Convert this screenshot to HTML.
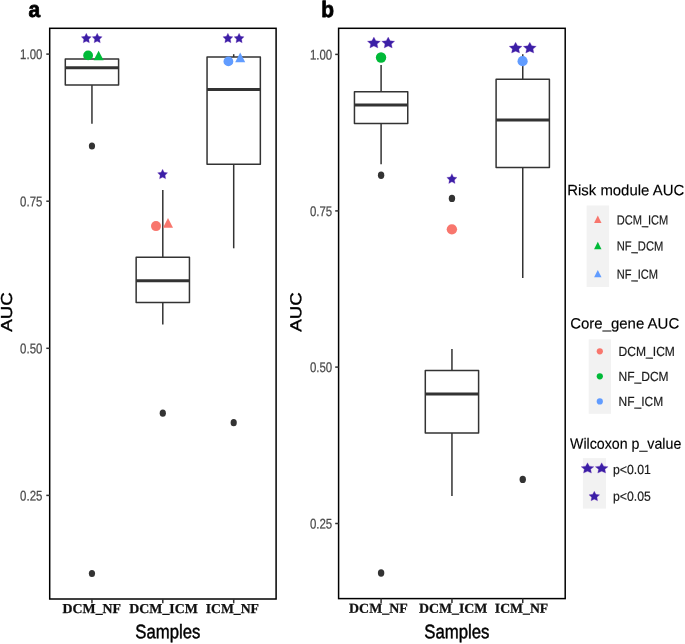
<!DOCTYPE html>
<html><head><meta charset="utf-8"><title>AUC boxplots</title>
<style>
html,body{margin:0;padding:0;background:#fff;}
body{width:685px;height:644px;overflow:hidden;}
svg{display:block;}
text{font-family:"Liberation Sans",Arial,sans-serif;}
.tk{font-size:14px;fill:#4d4d4d;stroke:#4d4d4d;stroke-width:0.25;}
.ser{font-family:"Liberation Serif","Times New Roman",serif;font-weight:bold;font-size:13.6px;fill:#111;stroke:#111;stroke-width:0.25;}
.ttl{font-size:19.6px;fill:#000;stroke:#000;stroke-width:0.45;}
.lt{font-size:15px;fill:#000;stroke:#000;stroke-width:0.15;}
.ll{font-size:13.2px;fill:#1a1a1a;stroke:#1a1a1a;stroke-width:0.2;}
.pl{font-size:22.5px;font-weight:bold;fill:#000;stroke:#000;stroke-width:0.8;stroke-linejoin:round;}
.bx{fill:#fff;stroke:#333;stroke-width:1.5;stroke-linejoin:round;}
.ln{stroke:#333;stroke-width:1.5;fill:none;}
.md{stroke:#333;stroke-width:3;fill:none;}
.ax{stroke:#000;stroke-width:1.5;fill:none;}
.ot{fill:#333;}
</style></head><body>
<svg width="685" height="644" viewBox="0 0 685 644">
<rect width="685" height="644" fill="#fff"/>
<rect class="ax" x="49.7" y="28.3" width="226.40" height="570.70"/>
<line class="ln" x1="46.300000000000004" y1="54.1" x2="49.7" y2="54.1"/>
<text transform="translate(42.4,59.1) rotate(0.04)" class="tk" text-anchor="end" textLength="22.3" lengthAdjust="spacingAndGlyphs">1.00</text>
<line class="ln" x1="46.300000000000004" y1="201.2" x2="49.7" y2="201.2"/>
<text transform="translate(42.4,206.2) rotate(0.04)" class="tk" text-anchor="end" textLength="22.3" lengthAdjust="spacingAndGlyphs">0.75</text>
<line class="ln" x1="46.300000000000004" y1="348.3" x2="49.7" y2="348.3"/>
<text transform="translate(42.4,353.3) rotate(0.04)" class="tk" text-anchor="end" textLength="22.3" lengthAdjust="spacingAndGlyphs">0.50</text>
<line class="ln" x1="46.300000000000004" y1="495.4" x2="49.7" y2="495.4"/>
<text transform="translate(42.4,500.4) rotate(0.04)" class="tk" text-anchor="end" textLength="22.3" lengthAdjust="spacingAndGlyphs">0.25</text>
<line class="ln" x1="91.95" y1="599.0" x2="91.95" y2="603.3"/>
<line class="ln" x1="162.8" y1="599.0" x2="162.8" y2="603.3"/>
<line class="ln" x1="233.7" y1="599.0" x2="233.7" y2="603.3"/>
<line class="ln" x1="91.95" y1="59.1" x2="91.95" y2="59.1"/>
<line class="ln" x1="91.95" y1="85.1" x2="91.95" y2="123.8"/>
<rect class="bx" x="65.30" y="59.1" width="53.3" height="26.00"/>
<line class="md" x1="65.30" y1="67.8" x2="118.60" y2="67.8"/>
<line class="ln" x1="162.8" y1="190" x2="162.8" y2="257.2"/>
<line class="ln" x1="162.8" y1="302.6" x2="162.8" y2="324.6"/>
<rect class="bx" x="136.15" y="257.2" width="53.3" height="45.40"/>
<line class="md" x1="136.15" y1="280.7" x2="189.45" y2="280.7"/>
<line class="ln" x1="233.7" y1="54.2" x2="233.7" y2="57"/>
<line class="ln" x1="233.7" y1="164.2" x2="233.7" y2="248.3"/>
<rect class="bx" x="207.05" y="57" width="53.3" height="107.20"/>
<line class="md" x1="207.05" y1="89.5" x2="260.35" y2="89.5"/>
<ellipse cx="91.95" cy="146.00" rx="3.10" ry="3.60" fill="#333"/>
<ellipse cx="91.95" cy="573.50" rx="3.10" ry="3.60" fill="#333"/>
<ellipse cx="162.80" cy="413.20" rx="3.10" ry="3.60" fill="#333"/>
<ellipse cx="233.70" cy="422.70" rx="3.10" ry="3.60" fill="#333"/>
<polygon points="86.30,33.20 87.85,36.36 91.30,36.87 88.80,39.33 89.39,42.80 86.30,41.16 83.21,42.80 83.80,39.33 81.30,36.87 84.75,36.36" fill="#3B1FA6" stroke="#7a3fc0" stroke-width="0.5" stroke-opacity="0.6"/>
<polygon points="97.20,33.20 98.75,36.36 102.20,36.87 99.70,39.33 100.29,42.80 97.20,41.16 94.11,42.80 94.70,39.33 92.20,36.87 95.65,36.36" fill="#3B1FA6" stroke="#7a3fc0" stroke-width="0.5" stroke-opacity="0.6"/>
<polygon points="162.60,169.20 164.15,172.36 167.60,172.87 165.10,175.33 165.69,178.80 162.60,177.16 159.51,178.80 160.10,175.33 157.60,172.87 161.05,172.36" fill="#3B1FA6" stroke="#7a3fc0" stroke-width="0.5" stroke-opacity="0.6"/>
<polygon points="227.90,33.20 229.45,36.36 232.90,36.87 230.40,39.33 230.99,42.80 227.90,41.16 224.81,42.80 225.40,39.33 222.90,36.87 226.35,36.36" fill="#3B1FA6" stroke="#7a3fc0" stroke-width="0.5" stroke-opacity="0.6"/>
<polygon points="239.10,33.20 240.65,36.36 244.10,36.87 241.60,39.33 242.19,42.80 239.10,41.16 236.01,42.80 236.60,39.33 234.10,36.87 237.55,36.36" fill="#3B1FA6" stroke="#7a3fc0" stroke-width="0.5" stroke-opacity="0.6"/>
<ellipse cx="88.10" cy="55.40" rx="4.90" ry="4.90" fill="#00BA38"/>
<polygon points="98.60,50.80 103.60,60.20 93.60,60.20" fill="#00BA38"/>
<ellipse cx="156.00" cy="226.10" rx="5.00" ry="5.00" fill="#F8766D"/>
<polygon points="168.00,218.00 173.00,227.70 163.00,227.70" fill="#F8766D"/>
<ellipse cx="228.40" cy="61.40" rx="4.90" ry="4.90" fill="#619CFF"/>
<polygon points="240.20,52.60 245.20,62.30 235.20,62.30" fill="#619CFF"/>
<rect class="ax" x="338.6" y="28.3" width="226.60" height="570.30"/>
<line class="ln" x1="335.20000000000005" y1="54.4" x2="338.6" y2="54.4"/>
<text transform="translate(332.2,59.4) rotate(0.04)" class="tk" text-anchor="end" textLength="22.3" lengthAdjust="spacingAndGlyphs">1.00</text>
<line class="ln" x1="335.20000000000005" y1="210.9" x2="338.6" y2="210.9"/>
<text transform="translate(332.2,215.9) rotate(0.04)" class="tk" text-anchor="end" textLength="22.3" lengthAdjust="spacingAndGlyphs">0.75</text>
<line class="ln" x1="335.20000000000005" y1="367.1" x2="338.6" y2="367.1"/>
<text transform="translate(332.2,372.1) rotate(0.04)" class="tk" text-anchor="end" textLength="22.3" lengthAdjust="spacingAndGlyphs">0.50</text>
<line class="ln" x1="335.20000000000005" y1="523.5" x2="338.6" y2="523.5"/>
<text transform="translate(332.2,528.5) rotate(0.04)" class="tk" text-anchor="end" textLength="22.3" lengthAdjust="spacingAndGlyphs">0.25</text>
<line class="ln" x1="381.1" y1="598.6" x2="381.1" y2="602.9"/>
<line class="ln" x1="451.95" y1="598.6" x2="451.95" y2="602.9"/>
<line class="ln" x1="522.75" y1="598.6" x2="522.75" y2="602.9"/>
<line class="ln" x1="381.1" y1="64.9" x2="381.1" y2="91.8"/>
<line class="ln" x1="381.1" y1="123.6" x2="381.1" y2="164.3"/>
<rect class="bx" x="354.45" y="91.8" width="53.3" height="31.80"/>
<line class="md" x1="354.45" y1="105.0" x2="407.75" y2="105.0"/>
<line class="ln" x1="451.95" y1="349.1" x2="451.95" y2="370.6"/>
<line class="ln" x1="451.95" y1="433.0" x2="451.95" y2="496"/>
<rect class="bx" x="425.30" y="370.6" width="53.3" height="62.40"/>
<line class="md" x1="425.30" y1="394.1" x2="478.60" y2="394.1"/>
<line class="ln" x1="522.75" y1="54.2" x2="522.75" y2="79.3"/>
<line class="ln" x1="522.75" y1="167.5" x2="522.75" y2="278"/>
<rect class="bx" x="496.10" y="79.3" width="53.3" height="88.20"/>
<line class="md" x1="496.10" y1="120" x2="549.40" y2="120"/>
<ellipse cx="381.10" cy="175.30" rx="3.20" ry="3.70" fill="#333"/>
<ellipse cx="381.10" cy="573.00" rx="3.20" ry="3.70" fill="#333"/>
<ellipse cx="451.95" cy="198.40" rx="3.20" ry="3.70" fill="#333"/>
<ellipse cx="522.75" cy="479.40" rx="3.20" ry="3.70" fill="#333"/>
<polygon points="373.90,37.10 375.91,40.66 380.40,41.23 377.15,43.99 377.92,47.90 373.90,46.06 369.88,47.90 370.65,43.99 367.40,41.23 371.89,40.66" fill="#3B1FA6" stroke="#7a3fc0" stroke-width="0.5" stroke-opacity="0.6"/>
<polygon points="388.20,37.10 390.21,40.66 394.70,41.23 391.45,43.99 392.22,47.90 388.20,46.06 384.18,47.90 384.95,43.99 381.70,41.23 386.19,40.66" fill="#3B1FA6" stroke="#7a3fc0" stroke-width="0.5" stroke-opacity="0.6"/>
<polygon points="451.90,173.70 453.48,176.93 457.00,177.44 454.45,179.95 455.05,183.50 451.90,181.83 448.75,183.50 449.35,179.95 446.80,177.44 450.32,176.93" fill="#3B1FA6" stroke="#7a3fc0" stroke-width="0.5" stroke-opacity="0.6"/>
<polygon points="515.60,42.20 517.61,45.76 522.10,46.33 518.85,49.09 519.62,53.00 515.60,51.16 511.58,53.00 512.35,49.09 509.10,46.33 513.59,45.76" fill="#3B1FA6" stroke="#7a3fc0" stroke-width="0.5" stroke-opacity="0.6"/>
<polygon points="529.80,42.20 531.81,45.76 536.30,46.33 533.05,49.09 533.82,53.00 529.80,51.16 525.78,53.00 526.55,49.09 523.30,46.33 527.79,45.76" fill="#3B1FA6" stroke="#7a3fc0" stroke-width="0.5" stroke-opacity="0.6"/>
<ellipse cx="381.05" cy="57.50" rx="5.20" ry="5.20" fill="#00BA38"/>
<ellipse cx="451.90" cy="229.30" rx="5.20" ry="5.10" fill="#F8766D"/>
<ellipse cx="522.60" cy="61.20" rx="5.10" ry="5.10" fill="#619CFF"/>
<text class="pl" transform="translate(28.5,17.0) rotate(0.04) scale(0.93,1)">a</text>
<text class="pl" transform="translate(321.2,17.0) rotate(0.04) scale(0.93,1)">b</text>
<text class="ttl" style="font-size:18.7px" transform="translate(11.9,312.1) rotate(-90.04) scale(1,0.85)" text-anchor="middle">AUC</text>
<text class="ttl" style="font-size:18.7px" transform="translate(301.2,312.1) rotate(-90.04) scale(1,0.85)" text-anchor="middle">AUC</text>
<text transform="translate(135.3,638.2) rotate(0.04)" class="ttl" text-anchor="start" textLength="65" lengthAdjust="spacingAndGlyphs">Samples</text>
<text transform="translate(424.2,638.2) rotate(0.04)" class="ttl" text-anchor="start" textLength="65.2" lengthAdjust="spacingAndGlyphs">Samples</text>
<text transform="translate(62.6,613) rotate(0.04)" class="ser" text-anchor="start" textLength="58.4" lengthAdjust="spacingAndGlyphs">DCM_NF</text>
<text transform="translate(129.3,613) rotate(0.04)" class="ser" text-anchor="start" textLength="68.5" lengthAdjust="spacingAndGlyphs">DCM_ICM</text>
<text transform="translate(205.7,613) rotate(0.04)" class="ser" text-anchor="start" textLength="53.2" lengthAdjust="spacingAndGlyphs">ICM_NF</text>
<text transform="translate(349.1,612.8) rotate(0.04)" class="ser" text-anchor="start" textLength="58.6" lengthAdjust="spacingAndGlyphs">DCM_NF</text>
<text transform="translate(418.9,612.8) rotate(0.04)" class="ser" text-anchor="start" textLength="68.5" lengthAdjust="spacingAndGlyphs">DCM_ICM</text>
<text transform="translate(494.8,612.8) rotate(0.04)" class="ser" text-anchor="start" textLength="53.4" lengthAdjust="spacingAndGlyphs">ICM_NF</text>
<text transform="translate(567.2,195.2) rotate(0.04)" class="lt" text-anchor="start" textLength="117" lengthAdjust="spacingAndGlyphs">Risk module AUC</text>
<rect x="586.6" y="205.5" width="22.5" height="81.5" fill="#f2f2f2"/>
<polygon points="597.80,215.60 601.50,223.00 594.10,223.00" fill="#F8766D"/>
<text transform="translate(616.7,224.4) rotate(0.04)" class="ll" text-anchor="start" textLength="51.6" lengthAdjust="spacingAndGlyphs">DCM_ICM</text>
<polygon points="597.80,241.80 601.50,249.20 594.10,249.20" fill="#00BA38"/>
<text transform="translate(616.7,250.6) rotate(0.04)" class="ll" text-anchor="start" textLength="46.6" lengthAdjust="spacingAndGlyphs">NF_DCM</text>
<polygon points="597.80,269.90 601.50,277.30 594.10,277.30" fill="#619CFF"/>
<text transform="translate(616.7,278.7) rotate(0.04)" class="ll" text-anchor="start" textLength="41.3" lengthAdjust="spacingAndGlyphs">NF_ICM</text>
<text transform="translate(570.2,328.4) rotate(0.04)" class="lt" text-anchor="start" textLength="109" lengthAdjust="spacingAndGlyphs">Core_gene AUC</text>
<rect x="588.7" y="339.3" width="22.3" height="74.5" fill="#f2f2f2"/>
<ellipse cx="599.80" cy="351.30" rx="3.10" ry="3.10" fill="#F8766D"/>
<text transform="translate(618.6,356.0) rotate(0.04)" class="ll" text-anchor="start" textLength="56.3" lengthAdjust="spacingAndGlyphs">DCM_ICM</text>
<ellipse cx="599.80" cy="376.30" rx="3.10" ry="3.10" fill="#00BA38"/>
<text transform="translate(618.6,381.0) rotate(0.04)" class="ll" text-anchor="start" textLength="50" lengthAdjust="spacingAndGlyphs">NF_DCM</text>
<ellipse cx="599.80" cy="401.40" rx="3.10" ry="3.10" fill="#619CFF"/>
<text transform="translate(618.6,406.09999999999997) rotate(0.04)" class="ll" text-anchor="start" textLength="44.5" lengthAdjust="spacingAndGlyphs">NF_ICM</text>
<text transform="translate(570.0,448.8) rotate(0.04)" class="lt" text-anchor="start" textLength="111.3" lengthAdjust="spacingAndGlyphs">Wilcoxon p_value</text>
<rect x="582.9" y="458.1" width="23.1" height="50.5" fill="#f2f2f2"/>
<polygon points="587.50,462.75 589.48,466.14 593.90,466.68 590.70,469.32 591.46,473.05 587.50,471.29 583.54,473.05 584.30,469.32 581.10,466.68 585.52,466.14" fill="#3B1FA6" stroke="#7a3fc0" stroke-width="0.5" stroke-opacity="0.6"/>
<polygon points="601.70,462.75 603.68,466.14 608.10,466.68 604.90,469.32 605.66,473.05 601.70,471.29 597.74,473.05 598.50,469.32 595.30,466.68 599.72,466.14" fill="#3B1FA6" stroke="#7a3fc0" stroke-width="0.5" stroke-opacity="0.6"/>
<polygon points="594.30,491.15 595.95,494.34 599.65,494.86 596.97,497.34 597.61,500.85 594.30,499.19 590.99,500.85 591.62,497.34 588.95,494.86 592.65,494.34" fill="#3B1FA6" stroke="#7a3fc0" stroke-width="0.5" stroke-opacity="0.6"/>
<text transform="translate(613,474) rotate(0.04)" class="ll" text-anchor="start" textLength="37.8" lengthAdjust="spacingAndGlyphs">p&lt;0.01</text>
<text transform="translate(613,500.8) rotate(0.04)" class="ll" text-anchor="start" textLength="37.8" lengthAdjust="spacingAndGlyphs">p&lt;0.05</text>
</svg></body></html>
